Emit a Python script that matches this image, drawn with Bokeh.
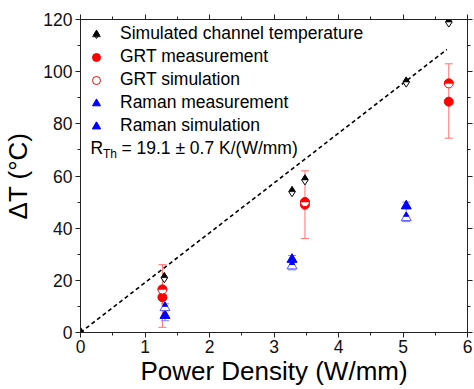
import math
from bokeh.plotting import figure
from bokeh.models import (Range1d, LinearAxis, SingleIntervalTicker, Whisker, TeeHead,
                          ColumnDataSource, Legend, LegendItem, Label, CustomLabelingPolicy)
from bokeh.embed import file_html
from bokeh.resources import INLINE

# ---------------- data ----------------
sim_x = [0.0, 1.30, 3.28, 3.48, 5.05, 5.71]
sim_y = [0.0, 21.0, 54.0, 58.5, 96.0, 119.0]

grt_x = [1.27, 3.48, 5.71]
grt_meas = [13.5, 49.0, 88.5]
grt_sim = [16.5, 50.0, 95.5]
grt_err_low = [2.0, 36.0, 74.5]
grt_err_high = [26.0, 62.0, 103.0]

raman_x = [1.31, 3.28, 5.05]
raman_meas = [6.5, 28.0, 48.5]
raman_sim = [9.5, 25.5, 44.0]
raman_err_low = [4.5, 24.0, 42.5]
raman_err_high = [11.0, 29.5, 50.0]

fit_x = [0.0, 5.68]
fit_y = [0.0, 108.5]

x_range = (0, 6)
y_range = (0, 120)

# ---------------- layout ----------------
W, H = 474, 389
BL, BR, BT, BB = 79, 7, 19, 57
FH = H - BT - BB
ppu = FH / (y_range[1] - y_range[0])  # pixels per y unit

FONT = "Liberation Sans"

p = figure(width=W, height=H, x_range=Range1d(*x_range), y_range=Range1d(*y_range),
           output_backend="svg", toolbar_location=None,
           min_border_left=BL, min_border_right=BR, min_border_top=BT, min_border_bottom=BB)
p.xgrid.visible = False
p.ygrid.visible = False
p.outline_line_color = "#222222"
p.outline_line_width = 1
p.background_fill_color = "white"
p.border_fill_color = "white"

xt = SingleIntervalTicker(interval=1, num_minor_ticks=2)
yt = SingleIntervalTicker(interval=20, num_minor_ticks=2)

def style_axis(ax, labels=True):
    ax.axis_line_color = "#222222"
    ax.major_tick_line_color = "#222222"
    ax.minor_tick_line_color = "#222222"
    ax.major_tick_out = 5
    ax.major_tick_in = 0
    ax.minor_tick_out = 3
    ax.minor_tick_in = 0
    ax.major_label_text_font = FONT
    ax.major_label_text_font_size = "17.5px" if labels else "0px"
    ax.major_label_text_color = "#111111"
    ax.major_label_standoff = 3 if labels else 0
    if not labels:
        ax.major_label_policy = CustomLabelingPolicy(code="return []")
        ax.axis_label_standoff = 0
    ax.axis_label_text_font = FONT
    ax.axis_label_text_font_size = "26px"
    ax.axis_label_text_font_style = "normal"
    ax.axis_label_text_color = "black"

p.xaxis.ticker = xt
p.yaxis.ticker = yt
p.xaxis.axis_label = "Power Density (W/mm)"
p.yaxis.axis_label = "ΔT (°C)"
style_axis(p.xaxis[0])
style_axis(p.yaxis[0])
p.xaxis.major_label_standoff = 2
p.xaxis.axis_label_standoff = 0
p.yaxis.axis_label_standoff = 7

top_ax = LinearAxis(ticker=xt)
right_ax = LinearAxis(ticker=yt)
style_axis(top_ax, labels=False)
style_axis(right_ax, labels=False)
p.add_layout(top_ax, "above")
p.add_layout(right_ax, "right")

x_per_px = (x_range[1] - x_range[0]) / (W - BL - BR)

# ---------------- fit line ----------------
p.line(fit_x, fit_y, line_color="black", line_width=1.6, line_dash="4 3")

# ---------------- error bars ----------------
grt_src = ColumnDataSource(dict(x=grt_x, lo=grt_err_low, hi=grt_err_high))
p.add_layout(Whisker(source=grt_src, base="x", lower="lo", upper="hi",
                     line_color="#ff7070", line_width=1,
                     upper_head=TeeHead(size=8, line_color="#ff7070", line_width=1),
                     lower_head=TeeHead(size=8, line_color="#ff7070", line_width=1)))
ram_src = ColumnDataSource(dict(x=raman_x, lo=raman_err_low, hi=raman_err_high))
p.add_layout(Whisker(source=ram_src, base="x", lower="lo", upper="hi",
                     line_color="#8080ff", line_width=1,
                     upper_head=TeeHead(size=8, line_color="#8080ff", line_width=1),
                     lower_head=TeeHead(size=8, line_color="#8080ff", line_width=1)))

# ---------------- markers ----------------
SD = 10  # diamond size
sd_top = 0.62 * SD
d_off = (0.866 * sd_top / 3) / ppu
sim_top_y = [v + d_off for v in sim_y]
r_sim_d = p.scatter(sim_x, sim_y, marker="diamond", size=SD, fill_color="white",
                    line_color="black", line_width=1)
r_sim_t = p.scatter(sim_x, sim_top_y, marker="triangle", size=sd_top, fill_color="black",
                    line_color="black", line_width=0.5)

SC = 9
r_grt_m = p.scatter(grt_x, grt_meas, marker="circle", size=SC, fill_color="red",
                    line_color="red", line_width=1)
r_grt_s = p.scatter(grt_x, grt_sim, marker="circle", size=SC, fill_color="white",
                    line_color="red", line_width=1)
p.wedge(grt_x, grt_sim, radius=SC / 2, radius_units="screen", start_angle=0,
        end_angle=math.pi, fill_color="red", line_color="red", line_width=0.5)

ST = 10
t_off = (0.289 * ST) / ppu
r_ram_m = p.scatter(raman_x, raman_meas, marker="triangle", size=ST, fill_color="blue",
                    line_color="blue", line_width=1)
r_ram_s = p.scatter(raman_x, raman_sim, marker="triangle", size=ST, fill_color="white",
                    line_color="#5555ff", line_width=1)
r_ram_s2 = p.scatter(raman_x, [v + t_off for v in raman_sim], marker="triangle", size=ST / 2,
                     fill_color="blue", line_color="blue", line_width=1)

# ---------------- legend ----------------
legend = Legend(items=[
    LegendItem(label="Simulated channel temperature", renderers=[r_sim_d, r_sim_t]),
    LegendItem(label="GRT measurement", renderers=[r_grt_m]),
    LegendItem(label="GRT simulation", renderers=[r_grt_s]),
    LegendItem(label="Raman measurement", renderers=[r_ram_m]),
    LegendItem(label="Raman simulation", renderers=[r_ram_s, r_ram_s2]),
], location="top_left")
legend.background_fill_alpha = 0
legend.border_line_alpha = 0
legend.margin = 0
legend.padding = 4
legend.spacing = 2
legend.glyph_width = 24
legend.glyph_height = 20
legend.label_height = 20
legend.label_standoff = 12
legend.label_text_font = FONT
legend.label_text_font_size = "17.5px"
legend.label_text_color = "black"
p.add_layout(legend)

# R_Th annotation
base_y = (FH + BT - 147) / ppu
p.add_layout(Label(x=(89 - BL) * x_per_px, y=base_y, text="R", text_baseline="alphabetic",
                   text_font=FONT, text_font_size="17.5px", text_color="black"))
p.add_layout(Label(x=(101.5 - BL) * x_per_px, y=(FH + BT - 153) / ppu, text="Th",
                   text_baseline="alphabetic",
                   text_font=FONT, text_font_size="12px", text_color="black"))
p.add_layout(Label(x=(120 - BL) * x_per_px, y=base_y,
                   text="= 19.1 ± 0.7 K/(W/mm)", text_baseline="alphabetic",
                   text_font=FONT, text_font_size="17.5px", text_color="black"))

open("out.html", "w").write(file_html(p, INLINE))
